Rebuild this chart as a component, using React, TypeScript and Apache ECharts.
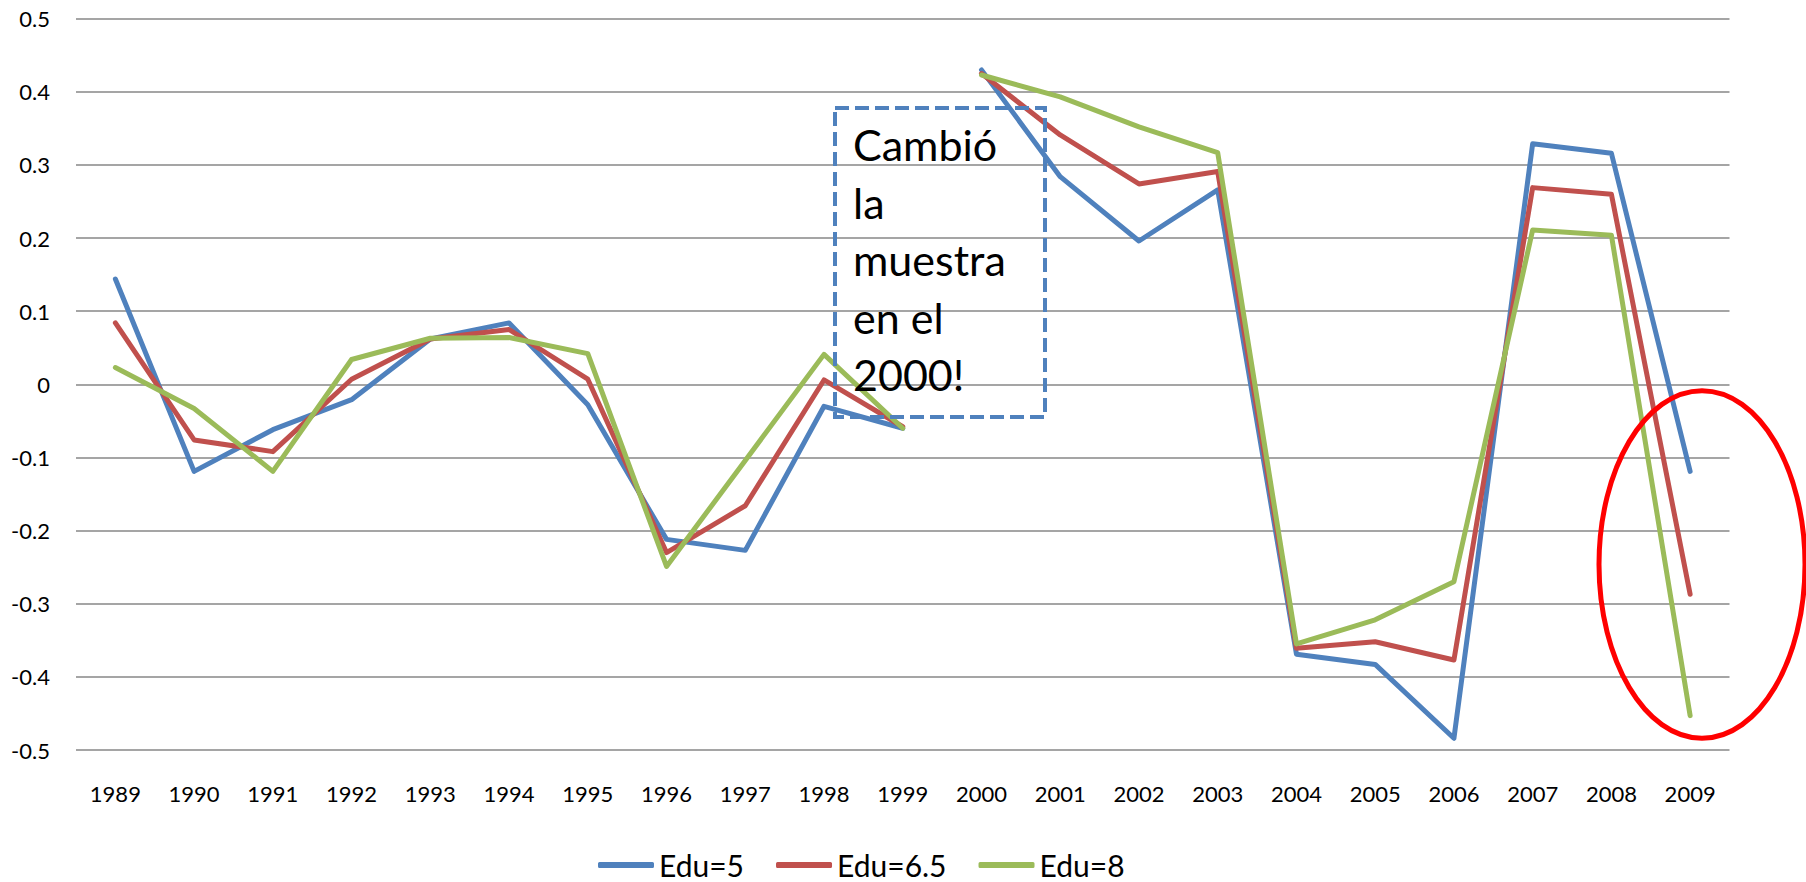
import React, { useEffect, useRef } from "react";
import * as echarts from "echarts";

const years = ["1989","1990","1991","1992","1993","1994","1995","1996","1997","1998","1999","2000","2001","2002","2003","2004","2005","2006","2007","2008","2009"];
const breakYear = "2000";
const edu5 = [0.144, -0.119, -0.062, -0.021, 0.062, 0.084, -0.028, -0.212, -0.227, -0.030, -0.060, 0.430, 0.284, 0.196, 0.266, -0.369, -0.383, -0.484, 0.329, 0.316, -0.119];
const edu65 = [0.084, -0.076, -0.092, 0.007, 0.062, 0.075, 0.007, -0.230, -0.166, 0.006, -0.058, 0.425, 0.341, 0.274, 0.291, -0.361, -0.352, -0.377, 0.269, 0.260, -0.287];
const edu8 = [0.023, -0.033, -0.119, 0.034, 0.063, 0.064, 0.042, -0.249, -0.104, 0.041, -0.060, 0.423, 0.393, 0.352, 0.317, -0.355, -0.322, -0.270, 0.211, 0.204, -0.453];
const seriesNames = ["Edu=5", "Edu=6.5", "Edu=8"];
const seriesColors = ["#4F81BD", "#C0504D", "#9BBB59"];
const annotationText = "Cambió\nla\nmuestra\nen el\n2000!";

const FONT = "Lato, 'Open Sans', sans-serif";

export default function App() {
  const ref = useRef<HTMLDivElement>(null);
  useEffect(() => {
    if (!ref.current) return;
    const chart = echarts.init(ref.current, null, { renderer: "svg" });
    const bi = years.indexOf(breakYear);
    const all = [edu5, edu65, edu8];
    const series: any[] = [];
    all.forEach((arr, i) => {
      const before = arr.map((v, k) => (k < bi ? v : "-"));
      const after = arr.map((v, k) => (k >= bi ? v : "-"));
      [before, after].forEach((d) => {
        series.push({
          type: "line",
          name: seriesNames[i],
          data: d,
          symbol: "none",
          showSymbol: false,
          connectNulls: false,
          color: seriesColors[i],
          lineStyle: { width: 5, color: seriesColors[i], cap: "round", join: "round" },
          z: 2 + i,
        });
      });
    });
    chart.setOption({
      animation: false,
      backgroundColor: "#ffffff",
      grid: { left: 76, right: 76.5, top: 18.7, bottom: 132, containLabel: false },
      xAxis: {
        type: "category",
        data: years,
        boundaryGap: true,
        axisLine: { show: false },
        axisTick: { show: false },
        axisLabel: { color: "#000", fontFamily: FONT, fontSize: 22, lineHeight: 22, margin: 32, interval: 0 },
        splitLine: { show: false },
      },
      yAxis: {
        type: "value",
        min: -0.5,
        max: 0.5,
        interval: 0.1,
        axisLine: { show: false },
        axisTick: { show: false },
        axisLabel: {
          color: "#000",
          fontFamily: FONT,
          fontSize: 22,
          margin: 26,
          formatter: (v: number) => {
            const r = Math.round(v * 10) / 10;
            return r === 0 ? "0" : r.toFixed(1);
          },
        },
        splitLine: { show: true, lineStyle: { color: "#878787", width: 1.6 } },
      },
      legend: {
        data: seriesNames,
        left: 598,
        top: 850,
        padding: 0,
        itemWidth: 56,
        itemHeight: 6,
        itemGap: 32,
        icon: "roundRect",
        textStyle: { color: "#000", fontFamily: FONT, fontSize: 30, lineHeight: 27 },
      },
      series,
      graphic: [
        {
          type: "rect",
          z: 100,
          shape: { x: 835, y: 108, width: 210, height: 309 },
          style: { fill: "none", stroke: "#4F81BD", lineWidth: 4, lineDash: [14, 6] },
        },
        {
          type: "text",
          z: 101,
          x: 853,
          y: 116,
          style: {
            text: annotationText,
            font: `43px ${FONT}`,
            lineHeight: 57.5,
            fill: "#000",
            verticalAlign: "top",
            align: "left",
          },
        },
        {
          type: "ellipse",
          z: 100,
          shape: { cx: 1702, cy: 564.5, rx: 103, ry: 173.8 },
          style: { fill: "none", stroke: "#FF0000", lineWidth: 5 },
        },
      ],
    });
    return () => chart.dispose();
  }, []);
  return (
    <div
      ref={ref}
      style={{ position: "fixed", left: 0, top: 0, width: 1806, height: 882, background: "#fff" }}
    />
  );
}
